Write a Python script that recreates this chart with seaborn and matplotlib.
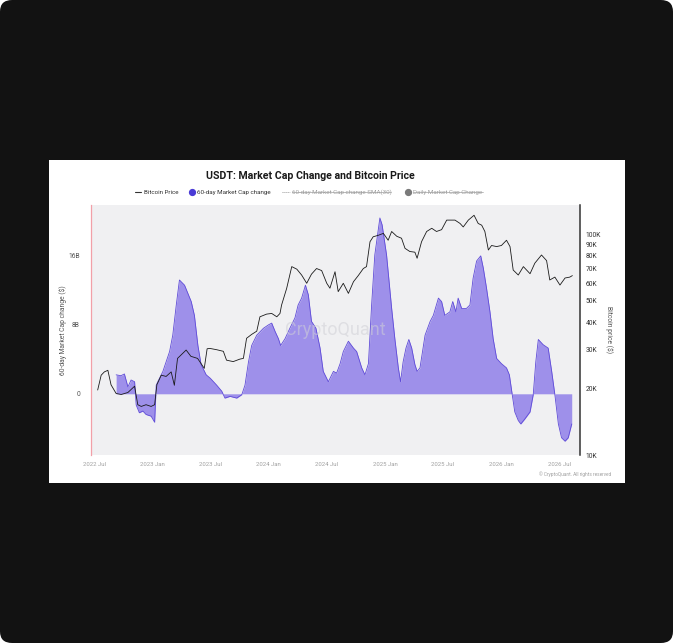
import matplotlib
matplotlib.use("Agg")
import matplotlib.pyplot as plt
import matplotlib.dates as mdates
from matplotlib.patches import FancyBboxPatch, Rectangle
from matplotlib.lines import Line2D
from matplotlib.ticker import FixedLocator, NullLocator
import seaborn as sns
import numpy as np
import pandas as pd

# --- data ---
cap_dates = [
    "2022-09-08", "2022-09-23", "2022-10-04", "2022-10-15", "2022-10-25", "2022-11-05",
    "2022-11-10", "2022-11-20", "2022-12-01", "2022-12-11", "2022-12-27", "2023-01-07",
    "2023-01-12", "2023-01-17", "2023-02-02", "2023-02-12", "2023-02-23", "2023-03-05",
    "2023-03-16", "2023-03-26", "2023-04-11", "2023-05-02", "2023-05-12", "2023-05-23",
    "2023-06-02", "2023-06-18", "2023-07-01", "2023-07-21", "2023-08-06", "2023-08-16",
    "2023-09-01", "2023-09-22", "2023-10-08", "2023-10-18", "2023-10-29", "2023-11-08",
    "2023-11-24", "2023-12-15", "2023-12-31", "2024-01-10", "2024-01-21", "2024-01-31",
    "2024-02-07", "2024-02-21", "2024-03-07", "2024-03-23", "2024-04-02", "2024-04-13",
    "2024-04-25", "2024-05-04", "2024-05-14", "2024-05-28", "2024-06-10", "2024-06-20",
    "2024-07-06", "2024-07-22", "2024-08-01", "2024-08-12", "2024-08-22", "2024-09-07",
    "2024-09-23", "2024-10-03", "2024-10-19", "2024-10-29", "2024-11-09", "2024-11-19",
    "2024-11-29", "2024-12-15", "2024-12-22", "2025-01-05", "2025-01-21", "2025-01-31",
    "2025-02-11", "2025-02-18", "2025-02-26", "2025-03-07", "2025-03-16", "2025-03-25",
    "2025-04-04", "2025-04-11", "2025-04-20", "2025-05-06", "2025-05-22", "2025-06-01",
    "2025-06-17", "2025-06-27", "2025-07-07", "2025-07-23", "2025-08-01", "2025-08-11",
    "2025-08-18", "2025-08-29", "2025-09-13", "2025-09-24", "2025-10-04", "2025-10-15",
    "2025-10-28", "2025-11-05", "2025-11-15", "2025-11-26", "2025-12-06", "2025-12-17",
    "2026-01-01", "2026-01-17", "2026-01-26", "2026-02-04", "2026-02-12", "2026-02-23",
    "2026-03-03", "2026-03-16", "2026-04-01", "2026-04-11", "2026-04-19", "2026-04-27",
    "2026-05-12", "2026-05-28", "2026-06-08", "2026-06-18", "2026-06-29", "2026-07-09",
    "2026-07-20", "2026-07-30", "2026-08-10",
]
cap_change_b = [
    2.2, 2.1, 2.3, 0.8, 1.6, 1.4,
    -1.3, -2.2, -2.0, -2.4, -2.6, -3.3,
    1.0, 1.4, 2.6, 3.7, 4.9, 6.8,
    10.3, 13.2, 12.6, 10.7, 9.1, 5.6,
    3.4, 2.2, 1.8, 1.0, 0.3, -0.5,
    -0.3, -0.5, -0.1, 1.0, 3.7, 5.6,
    6.8, 7.6, 8.0, 8.2, 7.2, 6.4,
    5.6, 6.4, 7.6, 8.8, 10.3, 11.1,
    12.6, 11.5, 8.4, 7.6, 5.3, 2.6,
    1.4, 2.6, 2.4, 3.5, 4.9, 6.1,
    5.3, 4.9, 3.0, 2.2, 3.5, 10.3,
    16.1, 20.4, 19.6, 16.1, 9.9, 6.4,
    3.0, 1.4, 3.7, 5.3, 6.3, 5.3,
    3.4, 2.6, 3.0, 6.8, 8.4, 9.1,
    11.1, 10.7, 9.1, 9.5, 10.7, 9.5,
    11.1, 9.9, 9.9, 10.3, 13.4, 15.4,
    16.0, 14.6, 12.3, 9.5, 6.4, 4.1,
    3.5, 3.0, 2.2, -0.1, -2.1, -3.1,
    -3.5, -2.9, -2.1, -0.1, 3.7, 6.3,
    5.7, 5.3, 2.6, -0.1, -3.5, -5.1,
    -5.5, -5.1, -3.5,
]

btc_dates = [
    "2022-07-12", "2022-07-23", "2022-08-02", "2022-08-13", "2022-08-23", "2022-09-08",
    "2022-09-24", "2022-10-15", "2022-11-05", "2022-11-15", "2022-11-26", "2022-12-11",
    "2022-12-27", "2023-01-07", "2023-01-14", "2023-01-28", "2023-02-12", "2023-02-28",
    "2023-03-10", "2023-03-20", "2023-04-16", "2023-05-01", "2023-05-22", "2023-06-12",
    "2023-06-21", "2023-06-30", "2023-07-21", "2023-08-11", "2023-08-21", "2023-09-11",
    "2023-10-02", "2023-10-13", "2023-10-23", "2023-11-08", "2023-11-24", "2023-12-04",
    "2023-12-25", "2024-01-10", "2024-01-26", "2024-02-05", "2024-02-10", "2024-02-26",
    "2024-03-13", "2024-03-29", "2024-04-13", "2024-04-29", "2024-05-14", "2024-05-30",
    "2024-06-15", "2024-07-01", "2024-07-11", "2024-07-27", "2024-08-06", "2024-08-22",
    "2024-09-07", "2024-09-23", "2024-10-08", "2024-10-24", "2024-11-03", "2024-11-14",
    "2024-11-24", "2024-12-10", "2024-12-26", "2025-01-10", "2025-01-21", "2025-02-06",
    "2025-02-21", "2025-03-04", "2025-03-19", "2025-04-04", "2025-04-11", "2025-04-25",
    "2025-05-11", "2025-05-27", "2025-06-11", "2025-06-27", "2025-07-13", "2025-07-23",
    "2025-08-08", "2025-08-24", "2025-09-03", "2025-09-19", "2025-10-07", "2025-10-20",
    "2025-10-31", "2025-11-10", "2025-11-21", "2025-12-01", "2025-12-17", "2026-01-01",
    "2026-01-17", "2026-01-28", "2026-02-07", "2026-02-23", "2026-03-11", "2026-04-01",
    "2026-04-16", "2026-05-07", "2026-05-23", "2026-06-02", "2026-06-18", "2026-07-04",
    "2026-07-20", "2026-08-04", "2026-08-12",
]
btc_price_k = [
    19.7, 23.0, 23.8, 24.2, 20.8, 19.0,
    18.8, 19.2, 20.5, 16.9, 16.6, 16.9,
    16.6, 16.9, 20.8, 23.0, 22.7, 23.8,
    20.7, 27.4, 29.9, 28.0, 27.4, 24.7,
    30.3, 30.4, 30.0, 29.5, 26.9, 26.5,
    27.2, 27.4, 33.8, 35.2, 36.4, 42.3,
    43.5, 43.8, 42.3, 43.8, 47.8, 56.9,
    71.4, 69.5, 65.4, 60.0, 66.0, 70.0,
    68.5, 60.0, 57.0, 67.7, 55.0, 60.0,
    54.0, 61.0, 65.0, 70.0, 71.4, 92.6,
    97.5, 99.0, 101.0, 94.0, 103.0, 98.0,
    96.0, 86.4, 83.6, 83.0, 77.9, 92.6,
    103.0, 106.5, 103.0, 105.0, 116.0, 116.0,
    116.0, 112.0, 108.0, 116.0, 122.0, 112.0,
    110.0, 103.0, 84.9, 89.0, 88.0, 89.0,
    94.0, 88.0, 68.9, 65.4, 71.4, 66.3,
    74.0, 80.6, 76.0, 62.1, 64.0, 58.9,
    63.4, 64.0, 65.0,
]

x_tick_dates = ["2022-07-01", "2023-01-01", "2023-07-01", "2024-01-01", "2024-07-01",
                "2025-01-01", "2025-07-01", "2026-01-01", "2026-07-01"]
left_ticks_b = [0, 8, 16]
left_tick_labels = ["0", "8B", "16B"]
right_ticks_k = [10, 20, 30, 40, 50, 60, 70, 80, 90, 100]
right_tick_labels = ["10K", "20K", "30K", "40K", "50K", "60K", "70K", "80K", "90K", "100K"]

cap_df = pd.DataFrame({"date": pd.to_datetime(cap_dates),
                       "change": np.array(cap_change_b) * 1e9})
btc_df = pd.DataFrame({"date": pd.to_datetime(btc_dates),
                       "price": np.array(btc_price_k) * 1e3})

# --- theme ---
sns.set_theme(style="white")
plt.rcParams["font.family"] = ["Roboto", "DejaVu Sans"]

W, H = 673, 643
fig = plt.figure(figsize=(W / 100, H / 100), dpi=100)
fig.patch.set_facecolor("white")

def fx(px):
    return px / W

def fy(py):
    return 1 - py / H

# dark rounded backdrop and white chart card
fig.add_artist(FancyBboxPatch((0, 0), 1, 1, boxstyle="round,pad=0,rounding_size=0.018",
                              transform=fig.transFigure, facecolor="#121212",
                              edgecolor="none", zorder=-10))
fig.add_artist(Rectangle((fx(49), fy(483)), fx(576), 323 / H, transform=fig.transFigure,
                         facecolor="white", edgecolor="none", zorder=-9))

ax = fig.add_axes([fx(91), fy(455), fx(489), 250 / H])
ax.set_facecolor("#f0f0f2")

FILL = "#9e90ea"
EDGE = "#5f4bd8"

ax.fill_between(cap_df["date"], 0, cap_df["change"], color=FILL, linewidth=0, zorder=2)
sns.lineplot(data=cap_df, x="date", y="change", ax=ax, color=EDGE, linewidth=0.6, zorder=3)

ax.set_xlim(pd.Timestamp("2022-06-21"), pd.Timestamp("2026-09-05"))
ax.set_ylim(-7.1e9, 21.9e9)
ax.yaxis.set_major_locator(FixedLocator([v * 1e9 for v in left_ticks_b]))
ax.set_yticklabels(left_tick_labels)
ax.xaxis.set_major_locator(FixedLocator(mdates.date2num(pd.to_datetime(x_tick_dates))))
ax.xaxis.set_major_formatter(mdates.DateFormatter("%Y %b"))
ax.tick_params(axis="x", length=0, pad=5, labelsize=4.3, labelcolor="#a0a0a0")
ax.tick_params(axis="y", length=0, pad=8, labelsize=4.9, labelcolor="#555555")
ax.set_xlabel("")
ax.set_ylabel("60-day Market Cap change ($)", fontsize=4.9, color="#555555", labelpad=1)

for side in ["top", "bottom", "right"]:
    ax.spines[side].set_visible(False)
ax.spines["left"].set_color("#f2a0a8")
ax.spines["left"].set_linewidth(0.9)

# watermark, faint over the area
ax.text(0.5, 0.5, "CryptoQuant", transform=ax.transAxes, ha="center", va="center",
        fontsize=13, color="#d0d0d6", alpha=0.55, zorder=4)

# bitcoin price on a log right axis
ax2 = ax.twinx()
sns.lineplot(data=btc_df, x="date", y="price", ax=ax2, color="#1a1a1a", linewidth=0.6)
ax2.set_yscale("log")
ax2.set_ylim(1e4, 1.358e5)
ax2.yaxis.set_major_locator(FixedLocator([v * 1e3 for v in right_ticks_k]))
ax2.yaxis.set_minor_locator(NullLocator())
ax2.set_yticklabels(right_tick_labels)
ax2.tick_params(axis="y", length=0, pad=4, labelsize=4.9, labelcolor="#333333")
ax2.set_ylabel("Bitcoin price ($)", fontsize=4.9, color="#555555", rotation=270, labelpad=9)
ax2.set_xlabel("")
for side in ["top", "bottom", "left"]:
    ax2.spines[side].set_visible(False)
ax2.spines["right"].set_color("#333333")
ax2.spines["right"].set_linewidth(1.1)

# title and legend
fig.text(fx(310), fy(176), "USDT: Market Cap Change and Bitcoin Price", ha="center",
         va="center", fontsize=7.6, fontweight="bold", color="#1a1a1a")

ly = fy(192.3)
fig.add_artist(Line2D([fx(134.7), fx(141.3)], [ly, ly], transform=fig.transFigure,
                      color="#333333", linewidth=0.8))
fig.text(fx(143.7), ly, "Bitcoin Price", ha="left", va="center", fontsize=4.5, color="#333333")
fig.add_artist(Line2D([fx(192)], [ly], transform=fig.transFigure, marker="o",
                      markersize=4.2, color="#4a3bd6", linestyle="none"))
fig.text(fx(197.3), ly, "60-day Market Cap change", ha="left", va="center",
         fontsize=4.5, color="#333333")
fig.add_artist(Line2D([fx(282), fx(290)], [ly, ly], transform=fig.transFigure,
                      color="#9a9a9a", linewidth=0.7, linestyle=(0, (1, 1))))
t_sma = fig.text(fx(291.7), ly, "60-day Market Cap change SMA(30)", ha="left", va="center",
                 fontsize=4.5, color="#a0a0a0")
fig.add_artist(Line2D([fx(408.5)], [ly], transform=fig.transFigure, marker="o",
                      markersize=4.2, color="#7a7a7a", linestyle="none"))
t_daily = fig.text(fx(413.3), ly, "Daily Market Cap Change", ha="left", va="center",
                   fontsize=4.5, color="#a0a0a0")

fig.text(fx(611), fy(474.5), "\u00a9 CryptoQuant. All rights reserved", ha="right",
         va="center", fontsize=3.4, color="#a0a0a0")

# strike through the hidden series in the legend
fig.canvas.draw()
renderer = fig.canvas.get_renderer()
for t in [t_sma, t_daily]:
    bb = t.get_window_extent(renderer).transformed(fig.transFigure.inverted())
    ymid = (bb.y0 + bb.y1) / 2
    fig.add_artist(Line2D([bb.x0, bb.x1], [ymid, ymid], transform=fig.transFigure,
                          color="#a0a0a0", linewidth=0.5))

fig.savefig("out.png", dpi=100)
